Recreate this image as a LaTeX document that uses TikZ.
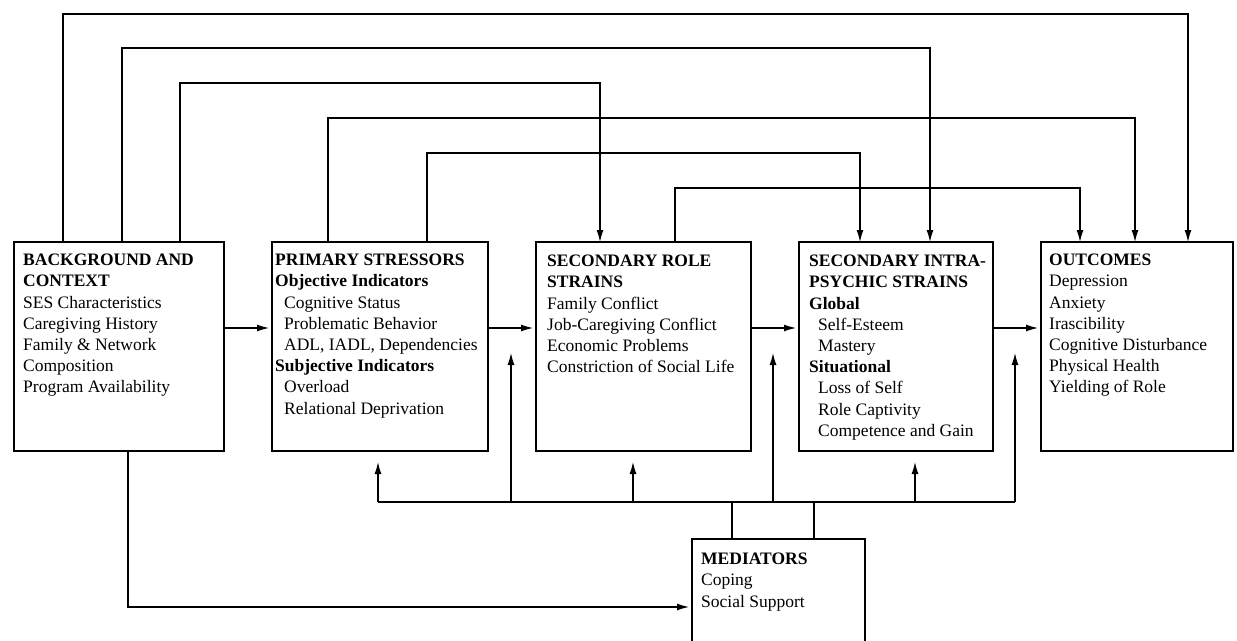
\documentclass[tikz,border=0pt]{standalone}
\usepackage{fontspec}
\setmainfont{Liberation Serif}
\usetikzlibrary{arrows.meta}
\begin{document}
\begin{tikzpicture}[x=1pt,y=-1pt,
  box/.style={draw,line width=1.6pt,rectangle,anchor=north west,inner sep=0pt,minimum height=209pt},
  txt/.style={anchor=north west,align=left,inner sep=0pt,font=\fontsize{17.5}{21.2}\selectfont},
  conn/.style={line width=1.2pt,-{Latex[length=12pt,width=7pt]}},
  plainline/.style={line width=1.2pt}]
\clip (0,0) rectangle (1237,640);
\fill[white] (0,0) rectangle (1237,640);
% boxes
\node[box,minimum width=210pt] (bg) at (13,241) {};
\node[box,minimum width=216pt] (ps) at (271,241) {};
\node[box,minimum width=215pt] (sr) at (535,241) {};
\node[box,minimum width=194pt] (ip) at (798,241) {};
\node[box,minimum width=192pt] (oc) at (1040,241) {};
\node[box,minimum width=173pt,minimum height=160pt] (med) at (691,538) {};
% texts
\node[txt] (bgt) at (23,254) {\textbf{BACKGROUND AND}\\\textbf{CONTEXT}\\SES Characteristics\\Caregiving History\\Family \& Network\\Composition\\Program Availability};
\node[txt] (pst) at (275,254) {\textbf{PRIMARY STRESSORS}\\\textbf{Objective Indicators}\\\hspace*{9pt}Cognitive Status\\\hspace*{9pt}Problematic Behavior\\\hspace*{9pt}ADL, IADL, Dependencies\\\textbf{Subjective Indicators}\\\hspace*{9pt}Overload\\\hspace*{9pt}Relational Deprivation};
\node[txt] (srt) at (547,255) {\textbf{SECONDARY ROLE}\\\textbf{STRAINS}\\Family Conflict\\Job-Caregiving Conflict\\Economic Problems\\Constriction of Social Life};
\node[txt] (ipt) at (809,255) {\textbf{SECONDARY INTRA-}\\\textbf{PSYCHIC STRAINS}\\\textbf{Global}\\\hspace*{9pt}Self-Esteem\\\hspace*{9pt}Mastery\\\textbf{Situational}\\\hspace*{9pt}Loss of Self\\\hspace*{9pt}Role Captivity\\\hspace*{9pt}Competence and Gain};
\node[txt] (oct) at (1049,254) {\textbf{OUTCOMES}\\Depression\\Anxiety\\Irascibility\\Cognitive Disturbance\\Physical Health\\Yielding of Role};
\node[txt] (medt) at (701,553) {\textbf{MEDIATORS}\\Coping\\Social Support};
% top feedback connectors
\coordinate (a1) at (63,14);   \coordinate (b1) at (1188,14);
\coordinate (a2) at (122,48);  \coordinate (b2) at (930,48);
\coordinate (a3) at (180,83);  \coordinate (b3) at (600,83);
\coordinate (a4) at (328,118); \coordinate (b4) at (1135,118);
\coordinate (a5) at (427,153); \coordinate (b5) at (860,153);
\coordinate (a6) at (675,188); \coordinate (b6) at (1080,188);
\draw[conn] (bg.north -| a1) -- (a1) -- (b1) -- ([yshift=-1pt]oc.north -| b1);
\draw[conn] (bg.north -| a2) -- (a2) -- (b2) -- ([yshift=-1pt]ip.north -| b2);
\draw[conn] (bg.north -| a3) -- (a3) -- (b3) -- ([yshift=-1pt]sr.north -| b3);
\draw[conn] (ps.north -| a4) -- (a4) -- (b4) -- ([yshift=-1pt]oc.north -| b4);
\draw[conn] (ps.north -| a5) -- (a5) -- (b5) -- ([yshift=-1pt]ip.north -| b5);
\draw[conn] (sr.north -| a6) -- (a6) -- (b6) -- ([yshift=-1pt]oc.north -| b6);
% main horizontal arrows
\coordinate (h) at (0,328);
\draw[conn] (bg.east |- h) -- ([xshift=-2pt]ps.west |- h);
\draw[conn] (ps.east |- h) -- ([xshift=-2pt]sr.west |- h);
\draw[conn] (sr.east |- h) -- ([xshift=-2pt]ip.west |- h);
\draw[conn] (ip.east |- h) -- ([xshift=-2pt]oc.west |- h);
% mediator feedback
\coordinate (mL) at (378,502);
\coordinate (mR) at (1015,502);
\coordinate (m1) at (732,502);
\coordinate (m2) at (814,502);
\draw[plainline] (mL) -- (mR);
\draw[plainline] (med.north -| m1) -- (m1);
\draw[plainline] (med.north -| m2) -- (m2);
\coordinate (u1) at (378,462);
\coordinate (u2) at (511,353);
\coordinate (u3) at (633,462);
\coordinate (u4) at (773,353);
\coordinate (u5) at (915,462);
\coordinate (u6) at (1015,353);
\draw[conn] (mL) -- (u1);
\draw[conn] (mL -| u2) -- (u2);
\draw[conn] (mL -| u3) -- (u3);
\draw[conn] (mL -| u4) -- (u4);
\draw[conn] (mL -| u5) -- (u5);
\draw[conn] (mR) -- (u6);
% background to mediators
\coordinate (c1) at (128,607);
\draw[conn] (bg.south -| c1) -- (c1) -- ([xshift=-2pt]med.west |- c1);
\end{tikzpicture}
\end{document}
